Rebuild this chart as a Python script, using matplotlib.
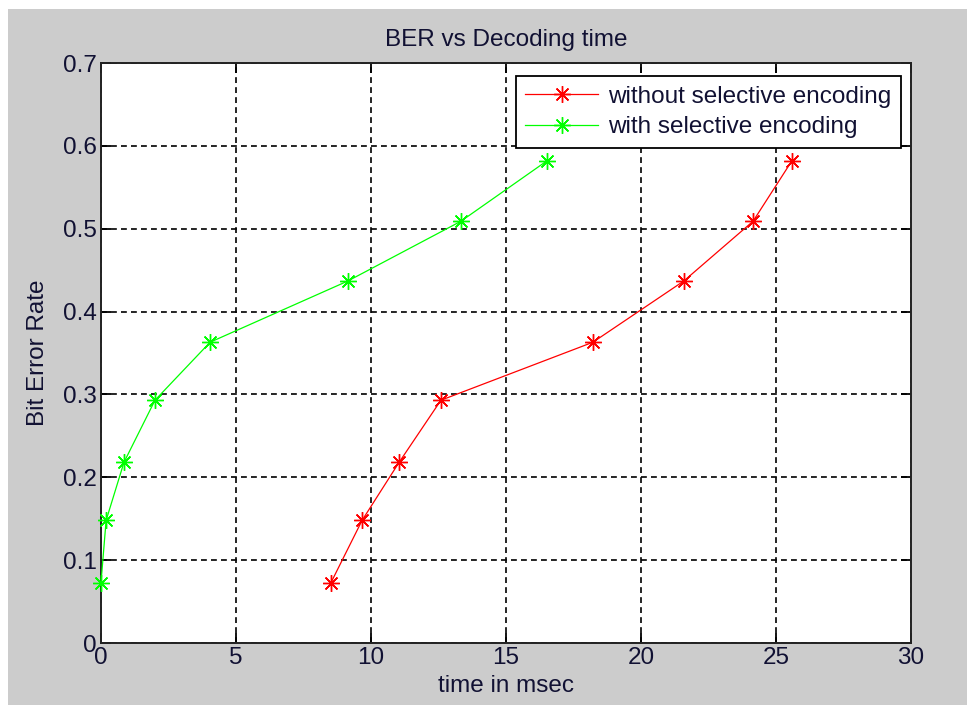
import numpy as np
import matplotlib
matplotlib.use("Agg")
import matplotlib.pyplot as plt
from matplotlib.patches import Rectangle

# values
ber = [0.073, 0.148, 0.218, 0.293, 0.363, 0.437, 0.509, 0.582]
time_without = [8.52, 9.67, 11.04, 12.59, 18.22, 21.59, 24.15, 25.59]
time_with = [0.0, 0.19, 0.85, 2.0, 4.04, 9.15, 13.33, 16.52]

x_ticks = [0, 5, 10, 15, 20, 25, 30]
y_ticks = [0, 0.1, 0.2, 0.3, 0.4, 0.5, 0.6, 0.7]
y_tick_labels = ["0", "0.1", "0.2", "0.3", "0.4", "0.5", "0.6", "0.7"]

gray = "#cccccc"
txt_col = "#111133"
fsize = 17.5
plt.rcParams['font.family'] = ['Liberation Sans', 'DejaVu Sans']

fig = plt.figure(figsize=(9.67, 7.05), dpi=100)
fig.patch.set_facecolor(gray)
# thin white strips top and left, like the screenshot
fig.patches.append(Rectangle((0, 1 - 9/705), 1, 9/705, transform=fig.transFigure,
                             facecolor="white", edgecolor="none", zorder=-10))
fig.patches.append(Rectangle((0, 0), 8/967, 1, transform=fig.transFigure,
                             facecolor="white", edgecolor="none", zorder=-10))

ax = fig.add_axes([101/967, 62/705, 810/967, 580/705])
ax.set_facecolor("white")

star = (8, 2, 0)
ax.plot(time_without, ber, color="#ff0000", lw=0.9, marker=star, ms=12, mew=1.0,
        label="without selective encoding", zorder=3, clip_on=False)
ax.plot(time_with, ber, color="#00ff00", lw=0.9, marker=star, ms=12, mew=1.0,
        label="with selective encoding", zorder=3, clip_on=False)

ax.set_xlim(0, 30)
ax.set_ylim(0, 0.7)
ax.set_xticks(x_ticks)
ax.set_xticklabels([str(t) for t in x_ticks])
ax.set_yticks(y_ticks)
ax.set_yticklabels(y_tick_labels)
ax.tick_params(direction="in", length=7, width=1.3, top=True, right=True,
               labelsize=fsize, labelcolor=txt_col, pad=3)
for sp in ax.spines.values():
    sp.set_linewidth(1.4)
    sp.set_color("#222222")

ax.grid(True, color="black", lw=1.2, linestyle=(0, (3.5, 2.5)))
ax.set_axisbelow(True)

ax.set_title("BER vs Decoding time", fontsize=fsize, color=txt_col, pad=12)
ax.set_xlabel("time in msec", fontsize=fsize, color=txt_col, labelpad=4)
ax.set_ylabel("Bit Error Rate", fontsize=fsize, color=txt_col, labelpad=10)

leg = ax.legend(loc="upper right", bbox_to_anchor=(1 - 10/810, 1 - 13/580),
                fontsize=fsize, frameon=True, fancybox=False, handlelength=3.0,
                handletextpad=0.4, borderpad=0.4, labelspacing=0.35,
                borderaxespad=0)
leg.get_frame().set_edgecolor("black")
leg.get_frame().set_linewidth(1.3)
leg.get_frame().set_alpha(1)
for t in leg.get_texts():
    t.set_color(txt_col)

fig.savefig("out.png", dpi=100, facecolor=fig.get_facecolor())
plt.close()
